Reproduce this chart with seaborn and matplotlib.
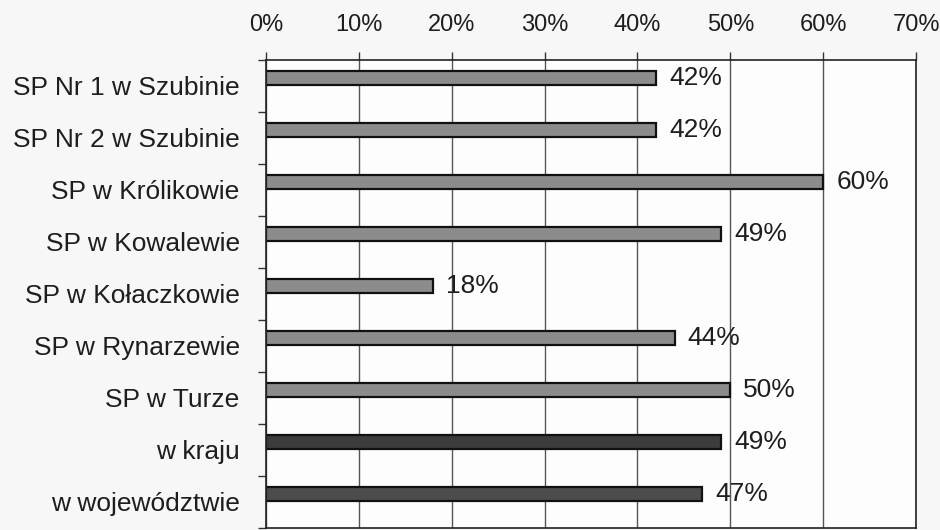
import numpy as np
import seaborn as sns
import matplotlib.pyplot as plt
from matplotlib.ticker import FixedLocator, PercentFormatter

# data
schools = ["SP Nr 1 w Szubinie", "SP Nr 2 w Szubinie", "SP w Królikowie",
           "SP w Kowalewie", "SP w Kołaczkowie", "SP w Rynarzewie",
           "SP w Turze", "w kraju", "w województwie"]
shares = [0.42, 0.42, 0.60, 0.49, 0.18, 0.44, 0.50, 0.49, 0.47]
bar_colors = ["#8c8c8c"] * 7 + ["#3c3c3c", "#4c4c4c"]

sns.set_style("white")
plt.rcParams["font.family"] = ["Liberation Sans", "DejaVu Sans"]

fig = plt.figure(figsize=(9.4, 5.3), dpi=100, facecolor="#f7f7f7")
ax = fig.add_axes([0.283, 0.004, 0.6915, 0.883])
ax.set_facecolor("#fdfdfd")

sns.barplot(x=shares, y=schools, hue=schools, palette=bar_colors, orient="h",
            width=0.28, edgecolor="#111111", linewidth=1.6, legend=False,
            saturation=1, ax=ax)

# bars sit in the upper part of each category band
off = 0.154
ax.set_ylim(len(schools) - 0.5 + off, -0.5 + off)
ax.set_xlim(0, 0.70)

# category labels at band centres, tick marks at band boundaries
ax.yaxis.set_major_locator(FixedLocator(np.arange(len(schools)) + off))
ax.set_yticklabels(schools)
ax.yaxis.set_minor_locator(FixedLocator(np.arange(len(schools) + 1) - 0.5 + off))
ax.tick_params(axis="y", which="major", length=0, pad=19, labelsize=19,
               labelcolor="#1e1e1e")
ax.tick_params(axis="y", which="minor", length=6, width=1.0, color="#333333",
               direction="out", left=True)

# percentage axis on top
ax.xaxis.tick_top()
ax.set_xticks(np.arange(0, 0.71, 0.10))
ax.xaxis.set_major_formatter(PercentFormatter(1.0, decimals=0))
ax.tick_params(axis="x", which="major", length=6, width=1.0, color="#333333",
               direction="out", pad=11, labelsize=17, labelcolor="#1e1e1e")
ax.grid(axis="x", color="#555555", linewidth=1.0)
ax.set_axisbelow(True)

for s in ax.spines.values():
    s.set_color("#222222")
    s.set_linewidth(1.2)

for i, v in enumerate(shares):
    ax.text(v + 0.014, i, f"{v * 100:.0f}%", va="center", ha="left",
            fontsize=19, color="#1e1e1e")

ax.set_xlabel("")
ax.set_ylabel("")
fig.savefig("out.png", dpi=100, facecolor=fig.get_facecolor())
